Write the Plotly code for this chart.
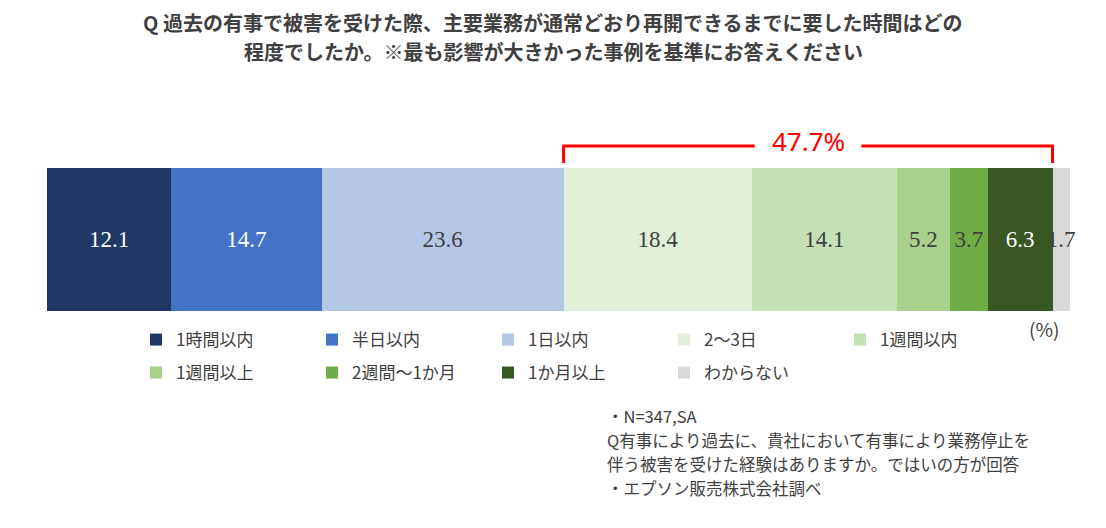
import plotly.graph_objects as go

# categories and values (%)
categories = ["1時間以内", "半日以内", "1日以内", "2～3日", "1週間以内",
              "1週間以上", "2週間～1か月", "1か月以上", "わからない"]
values = [12.1, 14.7, 23.6, 18.4, 14.1, 5.2, 3.7, 6.3, 1.7]
colors = ["#203864", "#4472C4", "#B4C7E7", "#E2EFDA", "#C5E0B4",
          "#A9D18E", "#70AD47", "#385723", "#D9D9D9"]
label_colors = ["white", "white", "#404040", "#404040", "#404040",
                "#404040", "#404040", "white", "#404040"]
highlight_total = 47.7   # 2～3日 .. 1か月以上
highlight_from = 3       # first category in the bracket

title_lines = ["Q 過去の有事で被害を受けた際、主要業務が通常どおり再開できるまでに要した時間はどの",
               "程度でしたか。※最も影響が大きかった事例を基準にお答えください"]
note_lines = ["・N=347,SA",
              "Q有事により過去に、貴社において有事により業務停止を",
              "伴う被害を受けた経験はありますか。ではいの方が回答",
              "・エプソン販売株式会社調べ"]

jp_font = "Noto Sans CJK JP"

# page body adds an 8px offset, so work in screen pixels and shift back
OFF = 8
W, H = 1106, 528
ML, MT = 47 - OFF, 168 - OFF
PW, PH = 1025, 143
MR, MB = W - ML - PW, H - MT - PH


def px(xs):
    return (xs - OFF - ML) / PW


def py(ys):
    return (MT + PH - (ys - OFF)) / PH


fig = go.Figure()

for i, (cat, val) in enumerate(zip(categories, values)):
    fig.add_trace(go.Bar(
        x=[val], y=[0], orientation="h", name=cat,
        marker=dict(color=colors[i], line=dict(width=0)),
        width=1,
        text=[f"{val:.1f}"], textposition="inside", insidetextanchor="middle",
        textangle=0, constraintext="none", cliponaxis=False,
        textfont=dict(family="Liberation Serif", size=23, color=label_colors[i]),
        legend="legend" if i < 5 else "legend2",
        hoverinfo="skip",
    ))

# bracket over the highlighted segments
start = sum(values[:highlight_from])
end = start + highlight_total
mid = (start + end) / 2
gap = 5.2
y_top, y_low = py(146), py(163)
red = "#FF0000"
fig.add_shape(type="path", xref="x", yref="paper",
              path=f"M {start},{y_low} L {start},{y_top} L {mid - gap},{y_top}",
              line=dict(color=red, width=3))
fig.add_shape(type="path", xref="x", yref="paper",
              path=f"M {mid + gap},{y_top} L {end},{y_top} L {end},{y_low}",
              line=dict(color=red, width=3))
fig.add_annotation(x=mid, y=py(141), xref="x", yref="paper", text=f"{highlight_total}%",
                   showarrow=False, yanchor="middle",
                   font=dict(family="Noto Sans", size=26, color=red))

# title
for line, ys in zip(title_lines, [22, 52]):
    fig.add_annotation(x=px(553), y=py(ys), xref="paper", yref="paper",
                       text=line, showarrow=False, align="center", yanchor="middle",
                       font=dict(family=jp_font, size=20, color="#404040", weight="bold"))

# unit
fig.add_annotation(x=px(1027), y=py(328), xref="paper", yref="paper",
                   text="(%)", showarrow=False, xanchor="left", yanchor="middle",
                   font=dict(family=jp_font, size=19, color="#404040"))

# note
for line, ys in zip(note_lines, [416, 440, 464, 488]):
    fig.add_annotation(x=px(606), y=py(ys), xref="paper", yref="paper",
                       text=line, showarrow=False, align="left", borderpad=0,
                       xanchor="left", yanchor="middle",
                       font=dict(family=jp_font, size=16.5, color="#404040"))

legend_common = dict(orientation="h", xref="container", yref="container",
                     xanchor="left", yanchor="middle", entrywidth=131,
                     entrywidthmode="pixels", itemwidth=30, traceorder="normal",
                     bgcolor="rgba(0,0,0,0)",
                     font=dict(family=jp_font, size=17, color="#404040"))

fig.update_layout(
    width=W, height=H,
    barmode="stack",
    margin=dict(l=ML, r=MR, t=MT, b=MB),
    plot_bgcolor="white", paper_bgcolor="white",
    xaxis=dict(range=[0, 100], visible=False, fixedrange=True),
    yaxis=dict(range=[-0.5, 0.5], visible=False, fixedrange=True),
    legend=dict(x=(136 - OFF) / W, y=1 - (340 - OFF) / H, **legend_common),
    legend2=dict(x=(136 - OFF) / W, y=1 - (373 - OFF) / H, **legend_common),
    uniformtext=dict(mode=False),
)

fig.write_html("out.html")
